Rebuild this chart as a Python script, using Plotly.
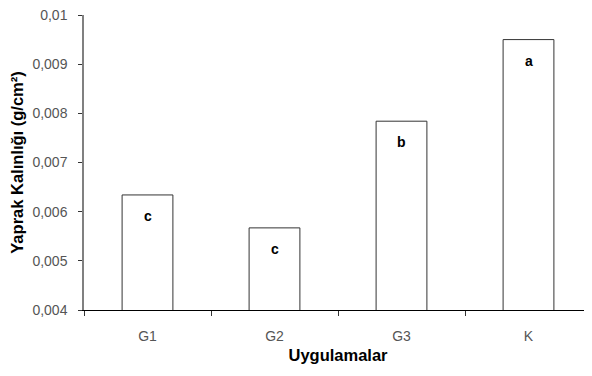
import plotly.graph_objects as go

categories = ["G1", "G2", "G3", "K"]
values = [0.00634, 0.00567, 0.00784, 0.00950]
letters = ["c", "c", "b", "a"]
ytick_vals = [0.004, 0.005, 0.006, 0.007, 0.008, 0.009, 0.01]
ytick_text = ["0,004", "0,005", "0,006", "0,007", "0,008", "0,009", "0,01"]

font_family = "Liberation Sans, Arial, sans-serif"

fig = go.Figure()
fig.add_trace(go.Bar(
    x=categories, y=values, width=0.4,
    marker=dict(color="white", line=dict(color="#333333", width=1)),
    showlegend=False, hoverinfo="skip",
))
for c, v, t in zip(categories, values, letters):
    fig.add_annotation(x=c, y=v, text=t, showarrow=False, yshift=-21,
                       font=dict(family=font_family, size=14, color="black", weight="bold"))

# page body has an 8px margin, so the figure is sized/offset to compensate
fig.update_layout(
    width=584, height=368,
    margin=dict(l=76, r=0, t=7, b=66),
    paper_bgcolor="white", plot_bgcolor="white",
    font=dict(family=font_family, size=14, color="#555555"),
)
fig.update_xaxes(
    showline=True, linecolor="black", linewidth=1,
    ticks="outside", ticklen=5, tickcolor="#333333", tickson="boundaries",
    showgrid=False, automargin=False, ticklabelstandoff=13, ticklabeloverflow="allow",
    tickfont=dict(size=14, color="#555555"),
    title=dict(text="Uygulamalar", font=dict(size=16.5, color="black", weight="bold"), standoff=6),
)
fig.update_yaxes(
    range=[0.004, 0.01], showline=True, linecolor="#808080", linewidth=1.5,
    ticks="outside", ticklen=4, tickcolor="#333333",
    tickvals=ytick_vals, ticktext=ytick_text, showgrid=False, zeroline=False,
    automargin=False, ticklabelstandoff=8, ticklabeloverflow="allow",
    tickfont=dict(size=14, color="#555555"),
    title=dict(text="Yaprak Kalınlığı (g/cm²)", font=dict(size=16.5, color="black", weight="bold"), standoff=5),
)
fig.write_html("out.html")
